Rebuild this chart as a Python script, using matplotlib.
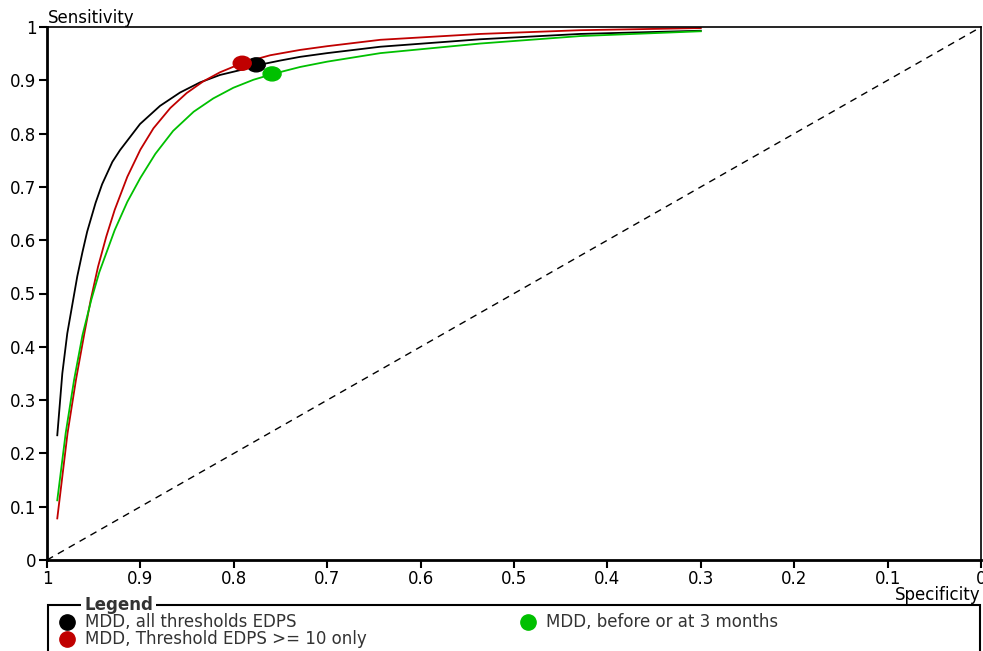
import matplotlib
matplotlib.use("Agg")
import matplotlib.pyplot as plt
from matplotlib.patches import Ellipse, Rectangle
from matplotlib.lines import Line2D

plt.rcParams['font.family'] = ['DejaVu Sans']

# values (specificity, sensitivity)
spec_all = [0.989, 0.9836, 0.9783, 0.9718, 0.9676, 0.962, 0.957, 0.948, 0.941, 0.930,
            0.9218, 0.9004, 0.879, 0.8576, 0.8362, 0.8148, 0.7934, 0.7755, 0.7505, 0.729,
            0.700, 0.643, 0.536, 0.429, 0.300]
sens_all = [0.234, 0.350, 0.425, 0.490, 0.532, 0.578, 0.616, 0.670, 0.705, 0.747,
            0.769, 0.818, 0.852, 0.877, 0.896, 0.910, 0.919, 0.928, 0.937, 0.944,
            0.951, 0.963, 0.977, 0.987, 0.993]

spec_10 = [0.989, 0.978, 0.969, 0.960, 0.9532, 0.9454, 0.9365, 0.9275, 0.914, 0.900,
           0.886, 0.868, 0.8505, 0.8327, 0.8148, 0.790, 0.761, 0.729, 0.700, 0.643,
           0.536, 0.429, 0.300]
sens_10 = [0.078, 0.238, 0.338, 0.425, 0.488, 0.550, 0.607, 0.657, 0.719, 0.770,
           0.810, 0.848, 0.876, 0.898, 0.915, 0.933, 0.947, 0.957, 0.964, 0.976,
           0.987, 0.994, 0.998]

spec_3m = [0.989, 0.980, 0.971, 0.962, 0.9526, 0.944, 0.9275, 0.914, 0.900, 0.884,
           0.865, 0.843, 0.822, 0.8005, 0.779, 0.758, 0.729, 0.700, 0.643, 0.536,
           0.429, 0.300]
sens_3m = [0.112, 0.238, 0.338, 0.422, 0.488, 0.540, 0.619, 0.672, 0.717, 0.762,
           0.805, 0.841, 0.866, 0.886, 0.901, 0.912, 0.925, 0.935, 0.951, 0.969,
           0.983, 0.992]

# summary points
pt_spec = [0.776, 0.791, 0.759]
pt_sens = [0.929, 0.932, 0.912]
colors = ["#000000", "#c00000", "#00c000"]
labels = ["MDD, all thresholds EDPS", "MDD, Threshold EDPS >= 10 only", "MDD, before or at 3 months"]

W, H = 983, 651
fs = 12
fig = plt.figure(figsize=(W / 100, H / 100), dpi=100)
ax = fig.add_axes([47 / W, 91 / H, 934 / W, 533 / H])

ax.plot([1, 0], [0, 1], ls=(0, (5, 4)), color="black", lw=1)
ax.plot(spec_all, sens_all, color=colors[0], lw=1.3)
ax.plot(spec_10, sens_10, color=colors[1], lw=1.3)
ax.plot(spec_3m, sens_3m, color=colors[2], lw=1.3)

# dots drawn in order green, black, red (red on top)
for i in [2, 0, 1]:
    ax.add_patch(Ellipse((pt_spec[i], pt_sens[i]), 18 / 934, 14 / 533,
                         color=colors[i], zorder=5))

ax.set_xlim(1, 0)
ax.set_ylim(0, 1)
ax.set_xticks([1, 0.9, 0.8, 0.7, 0.6, 0.5, 0.4, 0.3, 0.2, 0.1, 0])
ax.set_xticklabels(["1", "0.9", "0.8", "0.7", "0.6", "0.5", "0.4", "0.3", "0.2", "0.1", "0"])
ax.set_yticks([0, 0.1, 0.2, 0.3, 0.4, 0.5, 0.6, 0.7, 0.8, 0.9, 1])
ax.set_yticklabels(["0", "0.1", "0.2", "0.3", "0.4", "0.5", "0.6", "0.7", "0.8", "0.9", "1"])
ax.tick_params(direction="out", length=6, width=1.5, labelsize=fs, pad=1.5)
ax.spines["left"].set_linewidth(2)
ax.spines["bottom"].set_linewidth(2)
ax.spines["top"].set_linewidth(1.2)
ax.spines["right"].set_linewidth(1.2)

fig.text(48 / W, 1 - 18 / H, "Sensitivity", fontsize=fs, va="center", ha="left")
fig.text(980 / W, 1 - 595 / H, "Specificity", fontsize=fs, va="center", ha="right")

# legend box
fig.add_artist(Rectangle((48 / W, -0.1), 932 / W, 0.1 + (H - 605) / H,
                         transform=fig.transFigure, fill=False, lw=1.5, ec="black"))
fig.text(84 / W, 1 - 605 / H, "Legend", fontsize=fs, fontweight="bold",
         color="#333333", va="center", ha="left",
         bbox=dict(facecolor="white", edgecolor="none", pad=2))
leg_pos = [(67, 622), (67, 639), (528, 622)]
for i, (px, py) in enumerate(leg_pos):
    fig.add_artist(Line2D([px / W], [1 - py / H], marker="o", markersize=11,
                          color=colors[i], transform=fig.transFigure))
    fig.text((px + 18) / W, 1 - py / H, labels[i], fontsize=fs, color="#333333",
             va="center", ha="left")

fig.savefig("out.png", dpi=100)
